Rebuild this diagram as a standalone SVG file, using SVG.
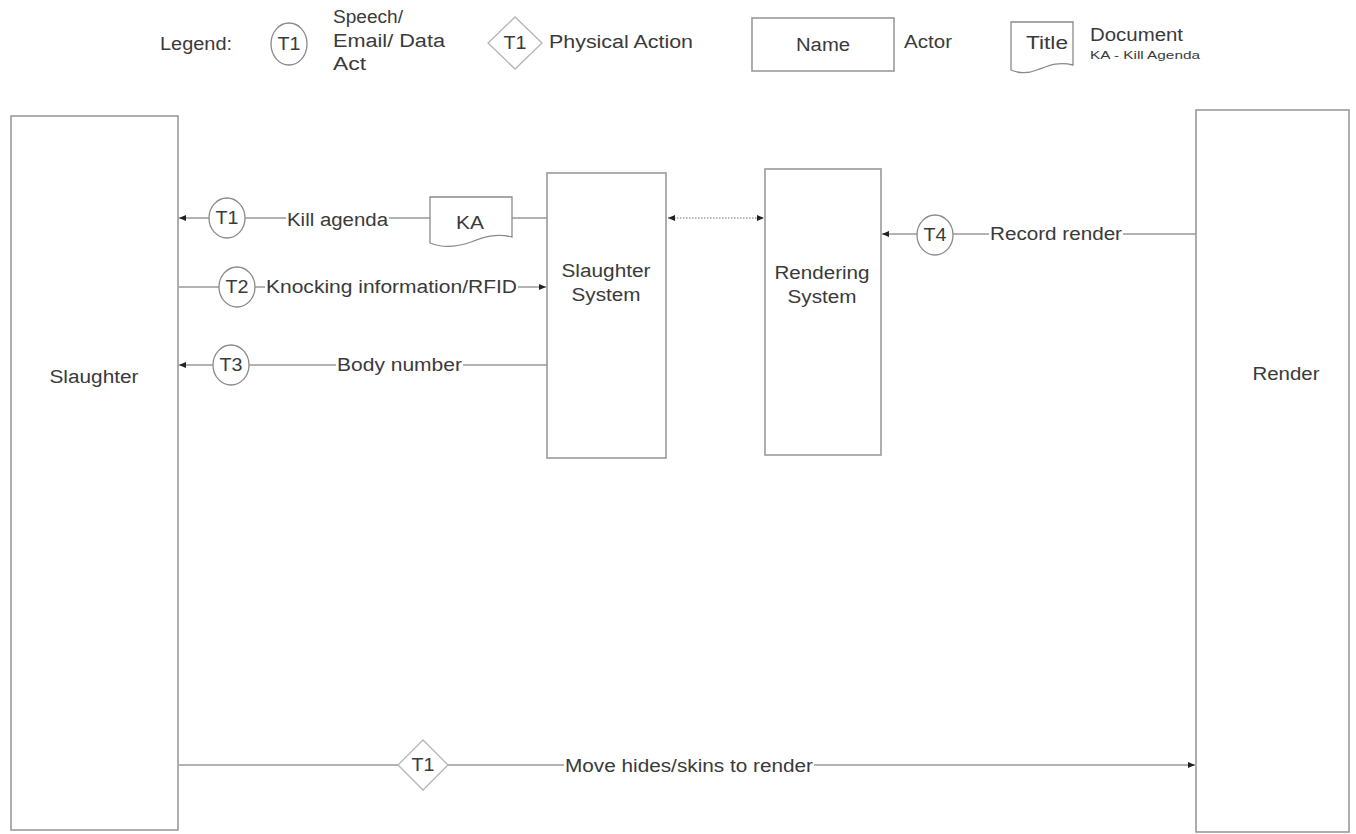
<svg xmlns="http://www.w3.org/2000/svg" width="1356" height="834" viewBox="0 0 1356 834">
<style>
.bg{fill:#fff}
.box{fill:#fff;stroke:#9a9a9a;stroke-width:1.6}
.shp{fill:#fff;stroke:#8a8a8a;stroke-width:1.3}
.dia{fill:#fff;stroke:#b5b5b5;stroke-width:1.3}
.ln{fill:none;stroke:#9a9a9a;stroke-width:1.5}
.dot{fill:none;stroke:#a0a0a0;stroke-width:1.5;stroke-dasharray:1.5 1.5}
.t{font-family:"Liberation Sans",Arial,sans-serif;font-size:18px;fill:#3a3a3a;dominant-baseline:central}
.c{text-anchor:middle}
.s{font-size:11px}
.lb{fill:#fff}
</style>
<defs>
<marker id="ah" markerWidth="8" markerHeight="8" refX="7" refY="4" orient="auto" markerUnits="userSpaceOnUse">
<path d="M0,1 L7,4 L0,7 Z" fill="#222"/>
</marker>
<marker id="ahs" markerWidth="8" markerHeight="8" refX="1" refY="4" orient="auto" markerUnits="userSpaceOnUse">
<path d="M8,1 L1,4 L8,7 Z" fill="#222"/>
</marker>
</defs>
<rect class="bg" x="0" y="0" width="1356" height="834"/>

<g id="legend">
<text class="t" x="160" y="44" textLength="72" lengthAdjust="spacingAndGlyphs">Legend:</text>
<ellipse class="shp" cx="289" cy="44" rx="18" ry="21"/>
<text class="t c" x="289" y="44" textLength="23" lengthAdjust="spacingAndGlyphs">T1</text>
<text class="t" x="333" y="17" textLength="70" lengthAdjust="spacingAndGlyphs">Speech/</text>
<text class="t" x="333" y="41" textLength="112" lengthAdjust="spacingAndGlyphs">Email/ Data</text>
<text class="t" x="333" y="64" textLength="33" lengthAdjust="spacingAndGlyphs">Act</text>
<polygon class="dia" points="488,43 515,17 542,43 515,69"/>
<text class="t c" x="515" y="43" textLength="23" lengthAdjust="spacingAndGlyphs">T1</text>
<text class="t" x="549" y="42" textLength="144" lengthAdjust="spacingAndGlyphs">Physical Action</text>
<rect class="box" x="752" y="18" width="142" height="53"/>
<text class="t c" x="823" y="45" textLength="54" lengthAdjust="spacingAndGlyphs">Name</text>
<text class="t" x="904" y="42" textLength="48" lengthAdjust="spacingAndGlyphs">Actor</text>
<path class="shp" d="M1011,22 H1073 V65 C1058,61 1048,66 1037,70 C1027,74 1018,73 1011,70 Z"/>
<text class="t c" x="1047" y="43" textLength="42" lengthAdjust="spacingAndGlyphs">Title</text>
<text class="t" x="1090" y="35" textLength="93" lengthAdjust="spacingAndGlyphs">Document</text>
<text class="t s" x="1090" y="55" textLength="110" lengthAdjust="spacingAndGlyphs">KA - Kill Agenda</text>
</g>

<g id="connectors">
<path class="ln" d="M547,218 H512"/>
<path class="ln" d="M430,218 H245"/>
<path class="ln" d="M209,218 H179" marker-end="url(#ah)"/>
<path class="ln" d="M179,287 H219"/>
<path class="ln" d="M255,287 H546" marker-end="url(#ah)"/>
<path class="ln" d="M547,365 H249"/>
<path class="ln" d="M213,365 H179" marker-end="url(#ah)"/>
<path class="dot" d="M668,218 H764" marker-start="url(#ahs)" marker-end="url(#ah)"/>
<path class="ln" d="M1196,234 H953"/>
<path class="ln" d="M917,234 H882" marker-end="url(#ah)"/>
<path class="ln" d="M179,765 H398"/>
<path class="ln" d="M448,765 H1195" marker-end="url(#ah)"/>
<rect class="lb" x="286" y="210" width="103" height="18"/>
<text class="t c" x="337.5" y="220" textLength="101" lengthAdjust="spacingAndGlyphs">Kill agenda</text>
<rect class="lb" x="265" y="279" width="253" height="18"/>
<text class="t c" x="391.5" y="287" textLength="251" lengthAdjust="spacingAndGlyphs">Knocking information/RFID</text>
<rect class="lb" x="336" y="357" width="127" height="18"/>
<text class="t c" x="399.5" y="365" textLength="125" lengthAdjust="spacingAndGlyphs">Body number</text>
<rect class="lb" x="989" y="226" width="134" height="18"/>
<text class="t c" x="1056" y="234" textLength="132" lengthAdjust="spacingAndGlyphs">Record render</text>
<rect class="lb" x="564" y="757" width="250" height="18"/>
<text class="t c" x="689" y="766" textLength="248" lengthAdjust="spacingAndGlyphs">Move hides/skins to render</text>
</g>

<g id="slaughter">
<rect class="box" x="11" y="116" width="167" height="714"/>
<text class="t c" x="94" y="377" textLength="89" lengthAdjust="spacingAndGlyphs">Slaughter</text>
</g>
<g id="render">
<rect class="box" x="1196" y="110" width="153" height="722"/>
<text class="t c" x="1286" y="374" textLength="67" lengthAdjust="spacingAndGlyphs">Render</text>
</g>
<g id="slaughter-system">
<rect class="box" x="547" y="173" width="119" height="285"/>
<text class="t c" x="606" y="271" textLength="89" lengthAdjust="spacingAndGlyphs">Slaughter</text>
<text class="t c" x="606" y="295" textLength="69" lengthAdjust="spacingAndGlyphs">System</text>
</g>
<g id="rendering-system">
<rect class="box" x="765" y="169" width="116" height="286"/>
<text class="t c" x="822" y="273" textLength="95" lengthAdjust="spacingAndGlyphs">Rendering</text>
<text class="t c" x="822" y="297" textLength="69" lengthAdjust="spacingAndGlyphs">System</text>
</g>
<g id="ka">
<path class="shp" d="M430,197 H512 V237 C496,233 484,237 471,242 C457,247 442,248 430,243 Z"/>
<text class="t c" x="470" y="223" textLength="28" lengthAdjust="spacingAndGlyphs">KA</text>
</g>
<g id="t1">
<ellipse class="shp" cx="227" cy="218" rx="18" ry="20"/>
<text class="t c" x="227" y="218" textLength="23" lengthAdjust="spacingAndGlyphs">T1</text>
</g>
<g id="t2">
<ellipse class="shp" cx="237" cy="287" rx="18" ry="20"/>
<text class="t c" x="237" y="287" textLength="23" lengthAdjust="spacingAndGlyphs">T2</text>
</g>
<g id="t3">
<ellipse class="shp" cx="231" cy="365" rx="18" ry="20"/>
<text class="t c" x="231" y="365" textLength="23" lengthAdjust="spacingAndGlyphs">T3</text>
</g>
<g id="t4">
<ellipse class="shp" cx="935" cy="235" rx="18" ry="20"/>
<text class="t c" x="935" y="235" textLength="23" lengthAdjust="spacingAndGlyphs">T4</text>
</g>
<g id="t1-physical">
<polygon class="dia" points="398,765 423,740 448,765 423,790"/>
<text class="t c" x="423" y="765" textLength="23" lengthAdjust="spacingAndGlyphs">T1</text>
</g>
</svg>
